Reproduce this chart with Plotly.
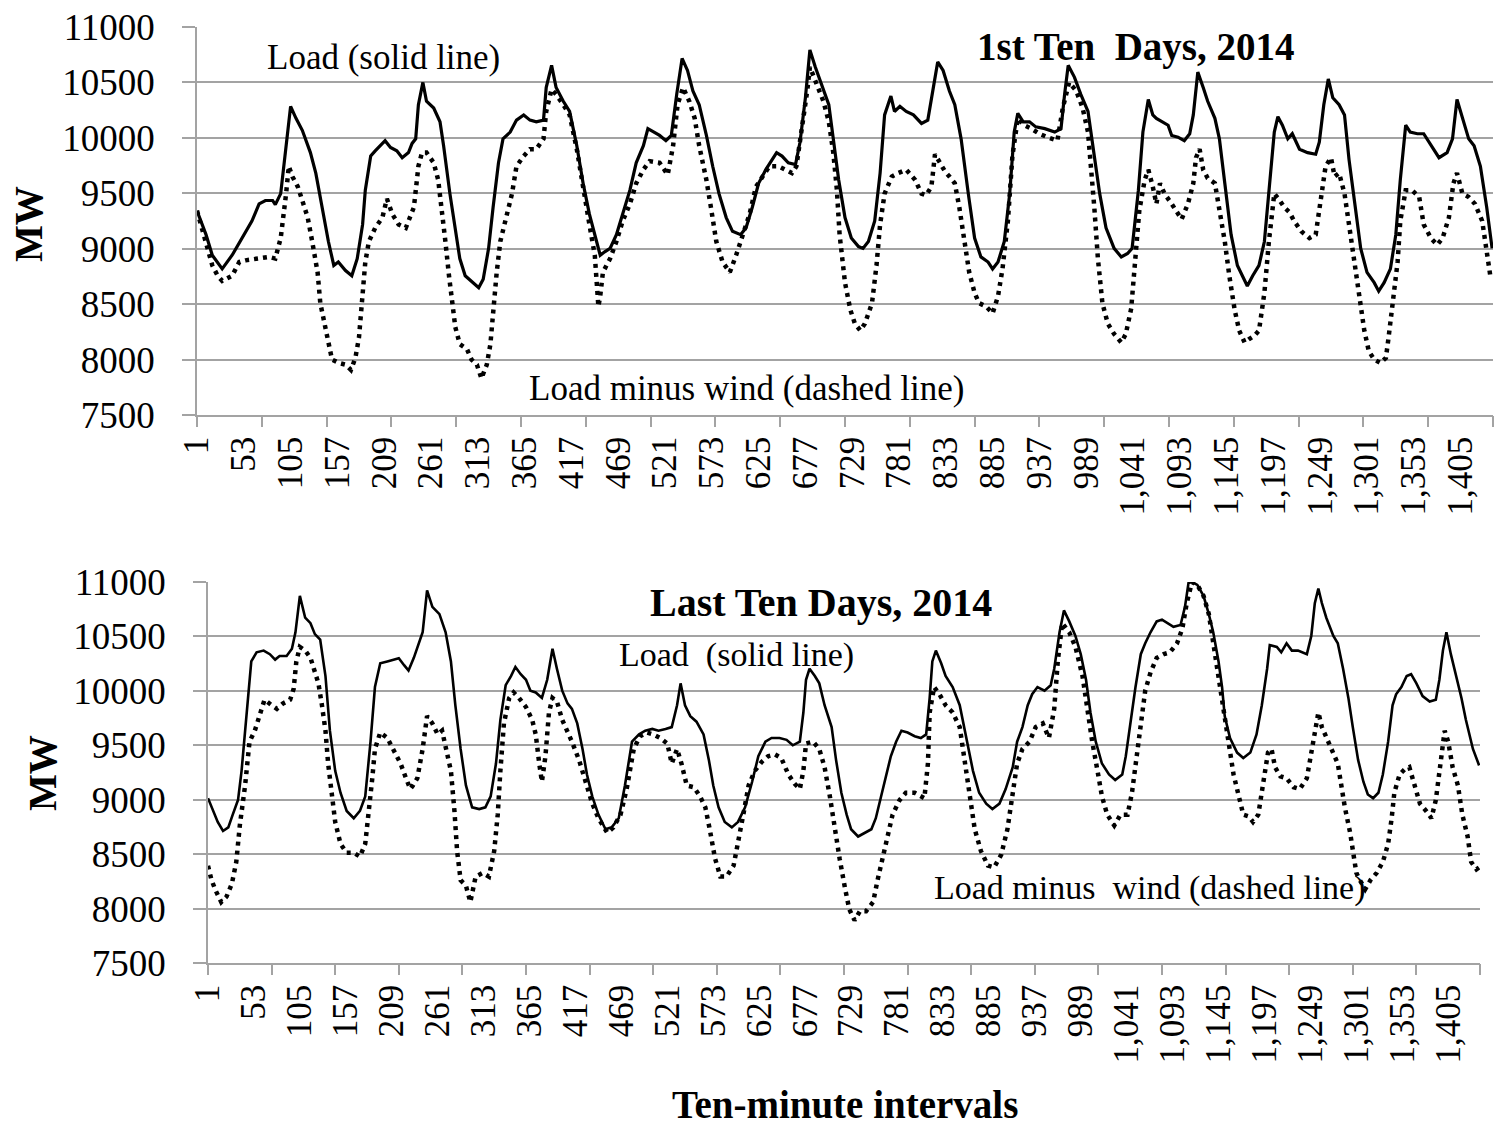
import plotly.graph_objects as go

W, H = 1497, 1129
FONT = "Liberation Serif"
GRID = "#a3a3a3"

# ---------------- data (ten-minute interval index, MW) ----------------
label_ticks = [1, 53, 105, 157, 209, 261, 313, 365, 417, 469, 521, 573, 625, 677,
               729, 781, 833, 885, 937, 989, 1041, 1093, 1145, 1197, 1249, 1301, 1353, 1405]
label_text = ["1", "53", "105", "157", "209", "261", "313", "365", "417", "469", "521",
              "573", "625", "677", "729", "781", "833", "885", "937", "989", "1,041",
              "1,093", "1,145", "1,197", "1,249", "1,301", "1,353", "1,405"]
mark_ticks = [1, 73, 145, 217, 289, 361, 433, 505, 577, 649, 721, 793, 865, 937,
              1009, 1081, 1153, 1225, 1297, 1369, 1441]
y_ticks = [7500, 8000, 8500, 9000, 9500, 10000, 10500, 11000]

# First ten days - load (solid)
top_load_x = [1, 11, 18, 29, 40, 51, 62, 70, 77, 85, 88, 94, 100, 105, 111, 118, 127, 133, 140, 147,
              153, 158, 166, 173, 179, 185, 188, 194, 199, 210, 216, 223, 229, 236, 240, 244, 247, 252,
              256, 264, 271, 275, 282, 288, 293, 299, 308, 314, 319, 325, 330, 336, 341, 349, 356, 364,
              371, 378, 386, 389, 395, 400, 408, 415, 423, 430, 437, 445, 449, 454, 460, 467, 474, 482,
              489, 497, 502, 508, 515, 522, 528, 534, 540, 546, 552, 559, 567, 574, 581, 589, 596, 605,
              611, 618, 625, 633, 640, 645, 651, 658, 666, 671, 677, 682, 688, 695, 703, 708, 714, 721,
              728, 736, 741, 747, 754, 760, 765, 772, 776, 782, 789, 797, 806, 813, 819, 824, 830, 837,
              843, 850, 858, 865, 872, 880, 885, 891, 898, 904, 909, 913, 919, 926, 933, 943, 954, 961,
              965, 969, 976, 983, 991, 994, 998, 1004, 1011, 1020, 1028, 1035, 1040, 1047, 1052, 1058,
              1063, 1067, 1073, 1080, 1084, 1091, 1098, 1104, 1108, 1113, 1119, 1124, 1132, 1137, 1143,
              1150, 1157, 1163, 1168, 1174, 1181, 1187, 1192, 1198, 1202, 1207, 1213, 1218, 1226, 1235,
              1244, 1248, 1253, 1258, 1263, 1270, 1276, 1281, 1287, 1294, 1301, 1309, 1314, 1320, 1327,
              1333, 1338, 1344, 1349, 1357, 1364, 1372, 1381, 1390, 1396, 1401, 1407, 1414, 1420, 1427,
              1434, 1440]
top_load_mw = [9343, 9127, 8941, 8818, 8941, 9096, 9250, 9404, 9435, 9435, 9398, 9497, 9929, 10284, 10176,
               10068, 9867, 9682, 9374, 9065, 8849, 8880, 8803, 8756, 8910, 9219, 9528, 9836, 9883, 9975,
               9914, 9883, 9821, 9867, 9950, 9991, 10299, 10500, 10330, 10269, 10145, 9929, 9497, 9157,
               8911, 8756, 8694, 8648, 8725, 9003, 9374, 9775, 9991, 10052, 10160, 10207, 10160, 10145,
               10160, 10454, 10654, 10454, 10330, 10238, 9929, 9590, 9312, 9065, 8941, 8972, 9003, 9127,
               9312, 9528, 9775, 9929, 10083, 10052, 10022, 9975, 10022, 10392, 10716, 10608, 10423, 10299,
               10022, 9744, 9497, 9281, 9157, 9127, 9188, 9374, 9590, 9713, 9806, 9867, 9836, 9775, 9759,
               9960, 10361, 10793, 10639, 10485, 10299, 9991, 9620, 9281, 9096, 9019, 9003, 9065, 9250,
               9682, 10207, 10377, 10238, 10284, 10238, 10207, 10130, 10160, 10454, 10685, 10608, 10423,
               10299, 9991, 9497, 9096, 8926, 8880, 8818, 8880, 9065, 9497, 10052, 10222, 10145, 10145,
               10099, 10083, 10052, 10083, 10392, 10654, 10546, 10392, 10238, 10052, 9836, 9497, 9188,
               9003, 8926, 8957, 9003, 9528, 10052, 10346, 10207, 10176, 10145, 10114, 10022, 10006, 9975,
               10037, 10207, 10593, 10454, 10330, 10176, 9991, 9590, 9127, 8849, 8741, 8664, 8756, 8849,
               9065, 9528, 10052, 10191, 10114, 9991, 10037, 9898, 9867, 9852, 9960, 10299, 10531, 10361,
               10299, 10207, 9806, 9435, 9003, 8787, 8694, 8617, 8694, 8818, 9127, 9620, 10114, 10052,
               10037, 10037, 9929, 9821, 9867, 9991, 10346, 10176, 9991, 9929, 9744, 9374, 9003]

# First ten days - load minus wind (dotted)
top_net_x = [1, 11, 18, 24, 29, 40, 48, 55, 70, 81, 88, 94, 100, 103, 107, 113, 118, 124, 129, 135,
             138, 143, 148, 151, 159, 166, 172, 177, 181, 185, 188, 192, 199, 207, 212, 218, 225, 233,
             242, 247, 251, 256, 264, 269, 273, 277, 281, 284, 288, 293, 301, 306, 312, 317, 323, 327,
             330, 334, 338, 343, 351, 356, 364, 371, 378, 386, 389, 395, 400, 408, 415, 423, 430, 437,
             443, 447, 449, 452, 460, 467, 474, 482, 489, 497, 504, 515, 524, 530, 535, 541, 548, 554,
             559, 567, 572, 578, 585, 593, 600, 607, 615, 622, 629, 637, 647, 655, 662, 667, 673, 679,
             682, 690, 697, 703, 708, 712, 715, 721, 727, 732, 738, 743, 751, 756, 760, 765, 773, 780,
             789, 799, 806, 811, 817, 821, 826, 832, 837, 843, 848, 854, 859, 865, 870, 878, 885, 891,
             896, 902, 907, 913, 920, 928, 937, 946, 957, 963, 970, 978, 985, 991, 994, 998, 1002, 1007,
             1013, 1020, 1028, 1033, 1039, 1045, 1048, 1054, 1058, 1063, 1067, 1071, 1076, 1084, 1089,
             1095, 1102, 1108, 1111, 1115, 1119, 1124, 1132, 1137, 1143, 1148, 1154, 1159, 1165, 1170,
             1176, 1181, 1187, 1192, 1198, 1204, 1209, 1215, 1220, 1228, 1237, 1244, 1250, 1255, 1261,
             1265, 1270, 1276, 1281, 1287, 1292, 1298, 1303, 1309, 1316, 1322, 1325, 1329, 1335, 1338,
             1344, 1351, 1359, 1364, 1372, 1379, 1385, 1392, 1397, 1401, 1407, 1414, 1421, 1429, 1434,
             1438]
top_net_mw = [9343, 9065, 8849, 8756, 8710, 8756, 8880, 8895, 8911, 8926, 8911, 9096, 9497, 9744, 9651,
              9559, 9435, 9281, 9065, 8787, 8509, 8293, 8108, 8000, 7969, 7954, 7907, 8015, 8201, 8571,
              8880, 9065, 9188, 9281, 9451, 9312, 9219, 9188, 9374, 9744, 9867, 9867, 9775, 9620, 9374,
              9065, 8756, 8540, 8293, 8139, 8093, 8000, 7954, 7830, 7954, 8139, 8447, 8787, 9065, 9219,
              9497, 9744, 9836, 9898, 9898, 9991, 10238, 10438, 10392, 10299, 10207, 9898, 9528, 9219,
              8941, 8478, 8571, 8787, 8911, 9065, 9250, 9404, 9590, 9713, 9790, 9775, 9667, 9929, 10299,
              10454, 10330, 10176, 9929, 9620, 9374, 9065, 8880, 8787, 8941, 9127, 9312, 9559, 9651, 9744,
              9744, 9713, 9682, 9744, 10052, 10423, 10639, 10485, 10330, 10145, 9867, 9528, 9127, 8694,
              8447, 8324, 8262, 8324, 8509, 8849, 9219, 9497, 9651, 9682, 9713, 9620, 9497, 9482, 9559,
              9852, 9775, 9698, 9651, 9590, 9374, 9065, 8787, 8602, 8509, 8478, 8417, 8571, 8818, 9250,
              9836, 10176, 10114, 10083, 10037, 10006, 9975, 10269, 10500, 10423, 10269, 10052, 9775, 9374,
              8911, 8509, 8324, 8231, 8154, 8231, 8460, 9003, 9343, 9620, 9713, 9559, 9404, 9590, 9497,
              9404, 9343, 9266, 9404, 9590, 9821, 9898, 9713, 9636, 9590, 9374, 9065, 8756, 8447, 8262,
              8154, 8185, 8216, 8262, 8602, 9065, 9497, 9435, 9374, 9327, 9250, 9157, 9096, 9127, 9435,
              9744, 9821, 9651, 9682, 9497, 9219, 8880, 8540, 8262, 8077, 8000, 7969, 8015, 8201, 8447,
              8880, 9250, 9528, 9528, 9466, 9219, 9096, 9034, 9096, 9281, 9590, 9682, 9497, 9466, 9404,
              9250, 8972, 8756]

# Last ten days - load (solid)
bot_load_x = [1, 7, 12, 18, 24, 29, 35, 39, 45, 50, 56, 64, 71, 77, 82, 90, 96, 100, 105, 111, 117,
              122, 128, 134, 139, 145, 151, 158, 166, 173, 179, 185, 190, 196, 204, 211, 217, 223, 228,
              234, 240, 244, 249, 255, 263, 270, 276, 281, 287, 293, 300, 308, 315, 321, 327, 332, 338,
              344, 349, 355, 361, 366, 372, 379, 385, 391, 396, 402, 408, 413, 419, 425, 430, 436, 443,
              451, 458, 466, 473, 481, 489, 496, 504, 511, 519, 526, 532, 536, 541, 547, 554, 562, 568,
              573, 579, 586, 594, 601, 609, 617, 624, 632, 639, 648, 656, 663, 671, 675, 678, 682, 688,
              693, 699, 707, 712, 718, 724, 729, 737, 744, 752, 757, 763, 769, 774, 780, 786, 793, 801,
              808, 814, 818, 821, 825, 831, 836, 844, 852, 859, 867, 874, 882, 889, 897, 904, 912, 917,
              923, 929, 934, 940, 948, 955, 959, 965, 970, 976, 983, 989, 995, 1000, 1006, 1013, 1021,
              1028, 1036, 1040, 1045, 1051, 1057, 1062, 1068, 1075, 1081, 1087, 1094, 1102, 1107, 1111,
              1115, 1121, 1128, 1134, 1139, 1145, 1149, 1152, 1158, 1166, 1173, 1181, 1188, 1194, 1200,
              1203, 1211, 1216, 1222, 1228, 1235, 1245, 1250, 1254, 1258, 1262, 1267, 1275, 1280, 1286,
              1292, 1297, 1303, 1309, 1314, 1320, 1326, 1331, 1337, 1342, 1346, 1352, 1358, 1363, 1369,
              1376, 1384, 1391, 1395, 1399, 1403, 1408, 1414, 1420, 1425, 1433, 1440]
bot_load_mw = [9014, 8897, 8796, 8713, 8746, 8863, 8997, 9265, 9801, 10270, 10354, 10370, 10337, 10287,
               10320, 10320, 10387, 10538, 10873, 10672, 10622, 10521, 10471, 10136, 9634, 9265, 9064,
               8897, 8830, 8897, 9031, 9533, 10035, 10253, 10270, 10287, 10300, 10236, 10186, 10303, 10437,
               10538, 10923, 10772, 10705, 10538, 10270, 9868, 9466, 9131, 8930, 8914, 8930, 9031, 9332,
               9734, 10052, 10136, 10220, 10153, 10102, 10002, 9985, 9935, 10102, 10387, 10203, 10002, 9885,
               9835, 9701, 9466, 9232, 9031, 8863, 8729, 8746, 8830, 9131, 9533, 9600, 9634, 9650, 9634,
               9650, 9667, 9868, 10069, 9868, 9768, 9717, 9600, 9366, 9131, 8930, 8796, 8746, 8796, 8930,
               9165, 9399, 9533, 9567, 9567, 9550, 9500, 9533, 9801, 10102, 10203, 10136, 10069, 9868,
               9667, 9366, 9064, 8863, 8729, 8662, 8696, 8729, 8830, 9031, 9232, 9399, 9533, 9634, 9617,
               9583, 9567, 9600, 9935, 10270, 10370, 10253, 10136, 10035, 9868, 9600, 9265, 9064, 8964,
               8914, 8964, 9098, 9299, 9533, 9667, 9868, 9969, 10035, 10002, 10052, 10203, 10538, 10739,
               10638, 10504, 10337, 10102, 9801, 9533, 9332, 9232, 9181, 9232, 9399, 9701, 10035, 10337,
               10437, 10538, 10638, 10655, 10622, 10588, 10605, 10772, 10990, 11000, 10973, 10873, 10705,
               10538, 10270, 10035, 9768, 9567, 9433, 9383, 9433, 9600, 9868, 10203, 10421, 10404, 10354,
               10437, 10370, 10370, 10337, 10504, 10806, 10940, 10806, 10672, 10504, 10437, 10203, 9935,
               9667, 9366, 9165, 9048, 9014, 9064, 9232, 9533, 9868, 9969, 10035, 10136, 10153, 10069,
               9952, 9902, 9918, 10102, 10370, 10538, 10337, 10136, 9935, 9734, 9466, 9315]

# Last ten days - load minus wind (dotted)
bot_net_x = [1, 5, 10, 16, 22, 28, 33, 37, 43, 48, 54, 60, 65, 73, 79, 86, 94, 98, 101, 105, 111, 117,
             122, 126, 130, 134, 137, 141, 145, 151, 158, 166, 173, 179, 183, 187, 190, 196, 204, 211,
             219, 225, 230, 233, 238, 244, 249, 255, 261, 266, 272, 276, 280, 283, 287, 293, 298, 304,
             312, 319, 325, 329, 332, 336, 342, 347, 353, 361, 368, 372, 376, 379, 383, 387, 391, 396,
             402, 408, 413, 421, 428, 436, 443, 453, 460, 468, 475, 483, 490, 498, 505, 513, 521, 526,
             532, 537, 543, 551, 558, 564, 569, 575, 581, 588, 596, 601, 607, 613, 620, 628, 635, 643,
             650, 658, 665, 671, 675, 678, 686, 693, 699, 705, 710, 716, 722, 727, 733, 739, 746, 754,
             759, 765, 771, 776, 784, 791, 801, 812, 816, 818, 823, 829, 836, 844, 852, 857, 863, 869,
             876, 884, 891, 899, 906, 912, 917, 923, 931, 938, 946, 953, 959, 963, 968, 976, 983, 991,
             996, 1002, 1008, 1013, 1019, 1027, 1034, 1042, 1047, 1053, 1058, 1062, 1068, 1075, 1083,
             1090, 1098, 1104, 1109, 1115, 1121, 1128, 1134, 1139, 1145, 1151, 1156, 1162, 1168, 1173,
             1179, 1184, 1190, 1194, 1198, 1201, 1205, 1209, 1215, 1222, 1230, 1237, 1245, 1250, 1254,
             1258, 1262, 1267, 1275, 1280, 1284, 1288, 1294, 1297, 1301, 1305, 1311, 1317, 1324, 1331,
             1337, 1341, 1344, 1350, 1356, 1361, 1367, 1373, 1380, 1386, 1391, 1397, 1401, 1405, 1410,
             1416, 1421, 1427, 1431, 1437, 1440]
bot_net_mw = [8394, 8261, 8160, 8060, 8110, 8227, 8428, 8763, 9131, 9533, 9634, 9801, 9918, 9868, 9835,
              9885, 9918, 10019, 10270, 10404, 10370, 10303, 10169, 10069, 9868, 9634, 9332, 9031, 8796,
              8595, 8512, 8512, 8478, 8595, 8863, 9198, 9466, 9617, 9567, 9466, 9332, 9200, 9098, 9131,
              9198, 9466, 9768, 9701, 9600, 9634, 9433, 9265, 8897, 8529, 8261, 8210, 8060, 8294, 8328,
              8294, 8529, 8863, 9265, 9701, 9935, 9985, 9935, 9851, 9734, 9600, 9332, 9165, 9399, 9801,
              9935, 9902, 9734, 9634, 9533, 9366, 9165, 8964, 8830, 8696, 8746, 8863, 9098, 9466, 9583,
              9617, 9600, 9567, 9516, 9332, 9466, 9332, 9131, 9115, 9031, 8930, 8729, 8461, 8294, 8294,
              8394, 8595, 8863, 9131, 9265, 9349, 9399, 9416, 9383, 9232, 9148, 9098, 9265, 9516, 9533,
              9466, 9299, 9031, 8763, 8461, 8194, 7993, 7892, 7976, 7976, 8060, 8261, 8461, 8662, 8863,
              8997, 9064, 9064, 9014, 9332, 9801, 10035, 9969, 9868, 9801, 9667, 9399, 9031, 8729, 8529,
              8394, 8378, 8495, 8729, 9064, 9332, 9466, 9533, 9667, 9701, 9567, 9835, 10270, 10622, 10538,
              10404, 10136, 9835, 9533, 9265, 9031, 8863, 8763, 8863, 8863, 9064, 9466, 9734, 10002,
              10169, 10303, 10337, 10354, 10437, 10571, 10806, 11000, 10973, 10873, 10705, 10437, 10136,
              9801, 9533, 9232, 9031, 8863, 8847, 8796, 8863, 9064, 9265, 9433, 9466, 9299, 9215, 9198,
              9115, 9098, 9198, 9433, 9667, 9801, 9667, 9567, 9433, 9332, 9131, 8930, 8696, 8529, 8328,
              8261, 8177, 8261, 8328, 8428, 8595, 8830, 9064, 9232, 9282, 9299, 9131, 8964, 8897, 8830,
              8997, 9399, 9634, 9533, 9299, 9131, 8863, 8662, 8428, 8361, 8378]


# ---------------- layout helpers (pixel -> paper) ----------------
def px_x(p):
    return p / W


def px_y(p):
    return 1 - p / H


TOP_X = [px_x(197), px_x(1493)]
TOP_Y = [px_y(415), px_y(27)]
BOT_X = [px_x(208), px_x(1480)]
BOT_Y = [px_y(963), px_y(582)]
XR = [1, 1441]

fig = go.Figure()
solid = dict(color="black", width=3.2)
dotted = dict(color="black", width=4.5, dash="4px,5px")

fig.add_trace(go.Scatter(x=top_load_x, y=top_load_mw, mode="lines", line=solid,
                         xaxis="x", yaxis="y", hoverinfo="skip"))
fig.add_trace(go.Scatter(x=top_net_x, y=top_net_mw, mode="lines", line=dotted,
                         xaxis="x3", yaxis="y", hoverinfo="skip"))
fig.add_trace(go.Scatter(x=bot_load_x, y=bot_load_mw, mode="lines", line=dict(color="black", width=2.6),
                         xaxis="x2", yaxis="y2", hoverinfo="skip"))
fig.add_trace(go.Scatter(x=bot_net_x, y=bot_net_mw, mode="lines", line=dotted,
                         xaxis="x4", yaxis="y2", hoverinfo="skip"))


def label_axis(domain, anchor):
    return dict(domain=domain, anchor=anchor, range=XR, tickmode="array", automargin=False,
                tickvals=label_ticks, ticktext=label_text, tickangle=-90, ticks="",
                showline=True, linecolor=GRID, linewidth=1.5, showgrid=False, zeroline=False,
                tickfont=dict(family=FONT, size=35, color="black"), ticklabelstandoff=6)


def mark_axis(over, anchor):
    return dict(overlaying=over, anchor=anchor, range=XR, tickmode="array", automargin=False,
                tickvals=mark_ticks, ticks="outside", ticklen=11, tickwidth=1.5, tickcolor=GRID,
                showticklabels=False, showgrid=False, showline=False, zeroline=False)


def value_axis(domain, anchor):
    return dict(domain=domain, anchor=anchor, range=[7500, 11000], tickmode="array",
                automargin=False,
                tickvals=y_ticks, tickformat="d", showgrid=True, gridcolor=GRID, gridwidth=1.5,
                ticks="outside", ticklen=13, tickwidth=1.5, tickcolor=GRID,
                showline=True, linecolor=GRID, linewidth=1.5, zeroline=False,
                tickfont=dict(family=FONT, size=37, color="black"), ticklabelstandoff=20)


def note(text, x, y, size, bold=False, angle=0, anchor="left"):
    t = f"<b>{text}</b>" if bold else text
    return dict(text=t, x=px_x(x), y=px_y(y), xref="paper", yref="paper", xanchor=anchor,
                yanchor="middle", showarrow=False, textangle=angle,
                font=dict(family=FONT, size=size, color="black"))


fig.update_layout(
    width=W, height=H, margin=dict(l=0, r=0, t=0, b=0, autoexpand=False),
    paper_bgcolor="white", plot_bgcolor="white", showlegend=False,
    xaxis=label_axis(TOP_X, "y"),
    xaxis3=mark_axis("x", "y"),
    yaxis=value_axis(TOP_Y, "x"),
    xaxis2=label_axis(BOT_X, "y2"),
    xaxis4=mark_axis("x2", "y2"),
    yaxis2=value_axis(BOT_Y, "x2"),
    annotations=[
        note("Load (solid line)", 265, 58, 35),
        note("1st Ten&nbsp; Days, 2014", 975, 47, 39, bold=True),
        note("Load minus wind (dashed line)", 527, 388, 35),
        note("MW", 28, 224, 39, bold=True, angle=-90, anchor="center"),
        note("Last Ten Days, 2014", 648, 602, 40, bold=True),
        note("Load&nbsp; (solid line)", 617, 655, 34),
        note("Load minus&nbsp; wind (dashed line)", 932, 888, 34),
        note("MW", 42, 773, 39, bold=True, angle=-90, anchor="center"),
        note("Ten-minute intervals", 845, 1104, 39, bold=True, anchor="center"),
    ],
)

fig.write_html("out.html", config={"displayModeBar": False},
               post_script="document.body.style.margin='0';")
